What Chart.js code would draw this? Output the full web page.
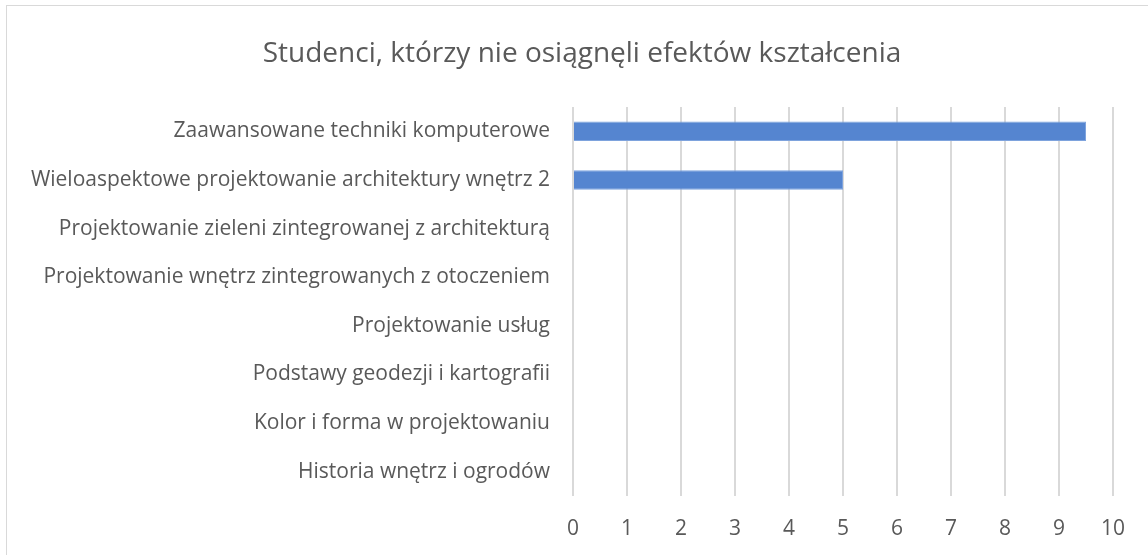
<!DOCTYPE html>
<html lang="pl">
<head>
<meta charset="utf-8">
<title>Studenci, którzy nie osiągnęli efektów kształcenia</title>
<script src="https://cdn.jsdelivr.net/npm/chart.js@4/dist/chart.umd.min.js"></script>
<style>
  html, body { margin: 0; padding: 0; background: #fff; overflow: hidden; }
  #wrap { position: relative; width: 1148px; height: 555px; }
  #frame { position: absolute; left: 6px; top: 5px; width: 1200px; height: 600px;
           border-left: 1px solid #d9d9d9; border-top: 1px solid #d9d9d9; }
  #chart { position: absolute; left: 0; top: 0; }
</style>
</head>
<body>
<div id="wrap">
  <div id="frame"></div>
  <canvas id="chart" width="1148" height="555"></canvas>
</div>
<script>
// Subjects, listed top to bottom
const subjects = [
  "Zaawansowane techniki komputerowe",
  "Wieloaspektowe projektowanie architektury wnętrz 2",
  "Projektowanie zieleni zintegrowanej z architekturą",
  "Projektowanie wnętrz zintegrowanych z otoczeniem",
  "Projektowanie usług",
  "Podstawy geodezji i kartografii",
  "Kolor i forma w projektowaniu",
  "Historia wnętrz i ogrodów"
];
// Number of students per subject
const studentCounts = [9.5, 5, 0, 0, 0, 0, 0, 0];
// Value axis range
const axisMin = 0;
const axisMax = 10;
const axisStep = 1;
const chartTitle = "Studenci, którzy nie osiągnęli efektów kształcenia";

const FONT = "'Open Sans', 'Noto Sans', sans-serif";
const TEXT = "#595959";

// Title drawn centred over the whole frame (the frame is offset from the canvas edge)
const frameTitle = {
  id: "frameTitle",
  afterDraw(chart, args, opts) {
    const ctx = chart.ctx;
    ctx.save();
    ctx.font = `normal ${opts.size}px ${FONT}`;
    ctx.fillStyle = TEXT;
    ctx.textAlign = "center";
    ctx.textBaseline = "middle";
    ctx.fillText(opts.text, opts.x, opts.y);
    ctx.restore();
  }
};

new Chart(document.getElementById("chart"), {
  type: "bar",
  data: {
    labels: subjects,
    datasets: [{
      data: studentCounts,
      backgroundColor: "#5585d0",
      borderColor: "#7ea3dd",
      borderWidth: 1,
      barPercentage: 0.4,
      categoryPercentage: 1
    }]
  },
  options: {
    indexAxis: "y",
    responsive: false,
    animation: false,
    layout: { padding: { left: 0, right: 35, top: 107, bottom: 0 } },
    plugins: {
      legend: { display: false },
      tooltip: { enabled: false },
      title: { display: false },
      frameTitle: { text: chartTitle, size: 28, x: 582, y: 54 }
    },
    scales: {
      x: {
        min: axisMin,
        max: axisMax,
        ticks: {
          stepSize: axisStep,
          color: TEXT,
          font: { family: FONT, size: 21 },
          padding: 20
        },
        grid: { color: "#d9d9d9", lineWidth: 2, drawTicks: false },
        border: { display: false },
        afterFit(axis) { axis.height = 59; }
      },
      y: {
        ticks: {
          color: TEXT,
          font: { family: FONT, size: 21 },
          padding: 23,
          autoSkip: false
        },
        grid: { display: false, drawTicks: false },
        border: { display: false },
        afterFit(axis) { axis.width = 573; }
      }
    }
  },
  plugins: [frameTitle]
});
</script>
</body>
</html>
